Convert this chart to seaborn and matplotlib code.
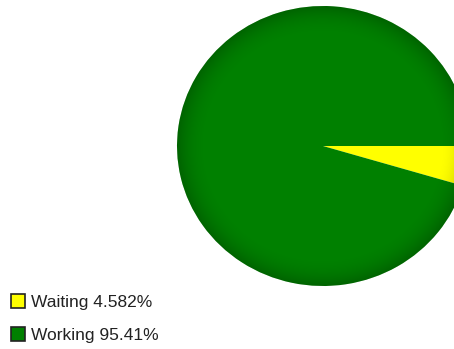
import numpy as np
import matplotlib
matplotlib.use("Agg")
import matplotlib.pyplot as plt
import seaborn as sns
from matplotlib.patches import Patch, Circle

categories = ["Waiting", "Working"]
values = [4.582, 95.41]
colors = ["#FFFF00", "#008000"]

sns.set_theme(style="white")
plt.rcParams['font.family'] = ['Liberation Sans', 'DejaVu Sans']

W, H = 454, 349
fig = plt.figure(figsize=(W / 100, H / 100), dpi=100)
fig.patch.set_facecolor("white")

cx, cy, rx, ry = 323, 146, 146, 140
ax = fig.add_axes([(cx - rx) / W, (H - cy - ry) / H, 2 * rx / W, 2 * ry / H])
wedges, _ = ax.pie(values, colors=colors, startangle=0, counterclock=False,
                   radius=1.0, wedgeprops=dict(linewidth=0))
ax.set_aspect("auto")
ax.axis("off")

# rim shading
n = 400
g = np.linspace(-1, 1, n)
X, Y = np.meshgrid(g, g)
R = np.sqrt(X ** 2 + Y ** 2)
alpha = 0.22 * np.clip((R - 0.80) / 0.20, 0, 1) ** 2
img = np.zeros((n, n, 4))
img[..., 3] = alpha
im = ax.imshow(img, extent=(-1, 1, -1, 1), origin="lower", zorder=3, aspect="auto")
clip = Circle((0, 0), 1.0, transform=ax.transData)
im.set_clip_path(clip)
ax.set_xlim(-1, 1)
ax.set_ylim(-1, 1)

handles = [Patch(facecolor=c, edgecolor="#222222", linewidth=1.2) for c in colors]
labels = [f"{c} {v:g}%" for c, v in zip(categories, values)]
fs = 12.5
leg = fig.legend(handles, labels, loc="upper left",
                 bbox_to_anchor=(11 / W, 1 - 294 / H),
                 frameon=False, fontsize=fs, handlelength=0.82, handleheight=0.82,
                 handletextpad=0.35, labelspacing=1.0, borderpad=0, borderaxespad=0)
for t in leg.get_texts():
    t.set_color("#222222")

fig.savefig("out.png", dpi=100)
